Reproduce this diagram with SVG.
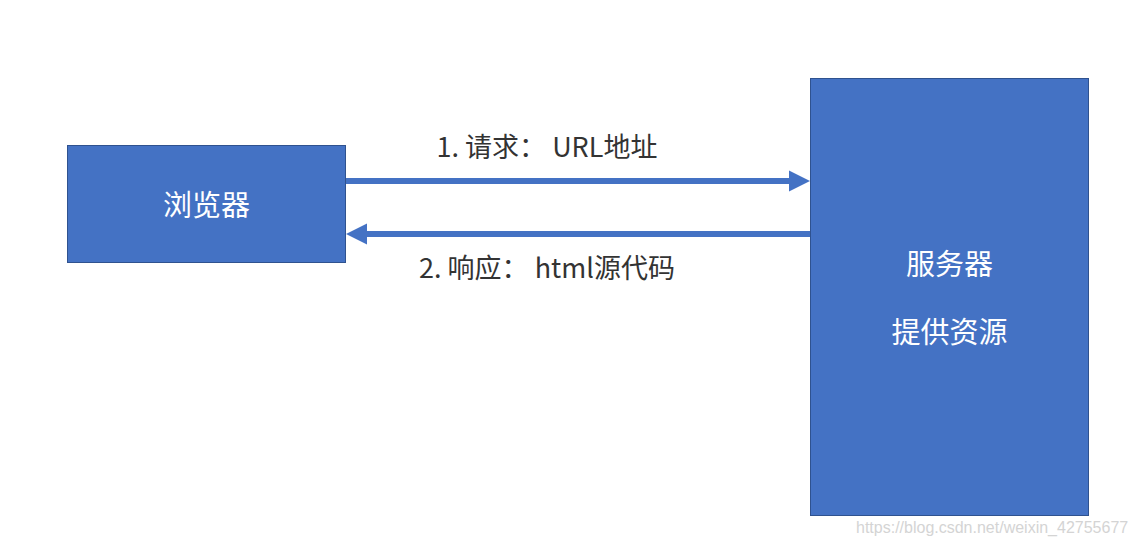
<svg xmlns="http://www.w3.org/2000/svg" width="1136" height="548" viewBox="0 0 1136 548">
<style>
.box{fill:#4472C4;stroke:#2F528F;stroke-width:1}
.nt{font-family:"Noto Sans CJK SC","Noto Sans",sans-serif;font-size:29px;fill:#fff;text-anchor:middle}
.lb{font-family:"Noto Sans CJK SC","Noto Sans",sans-serif;font-size:27px;fill:#333;text-anchor:middle}
.ln{stroke:#4472C4;stroke-width:6;fill:none}
.wm{font-family:"Liberation Sans",Arial,sans-serif;font-size:16px;fill:#d4d4d4}
</style>
<rect width="1136" height="548" fill="#fff"/>
<g id="browser">
<rect class="box" x="67.5" y="145.5" width="278" height="117"/>
<text class="nt" x="206.5" y="216">浏览器</text>
</g>
<g id="server">
<rect class="box" x="810.5" y="78.5" width="278" height="437"/>
<text class="nt" x="949.5" y="275">服务器</text>
<text class="nt" x="949.5" y="343">提供资源</text>
</g>
<g id="connectors">
<line class="ln" x1="346" y1="181" x2="792" y2="181"/>
<polygon points="810,181 789,170.5 789,191.5" fill="#4472C4"/>
<line class="ln" x1="810" y1="234" x2="364" y2="234"/>
<polygon points="346,234 367,223.5 367,244.5" fill="#4472C4"/>
<text class="lb" x="547" y="157" xml:space="preserve">1. 请求： URL地址</text>
<text class="lb" x="547" y="278" xml:space="preserve">2. 响应： html源代码</text>
</g>
<text class="wm" x="856" y="533">https://blog.csdn.net/weixin_42755677</text>
</svg>
